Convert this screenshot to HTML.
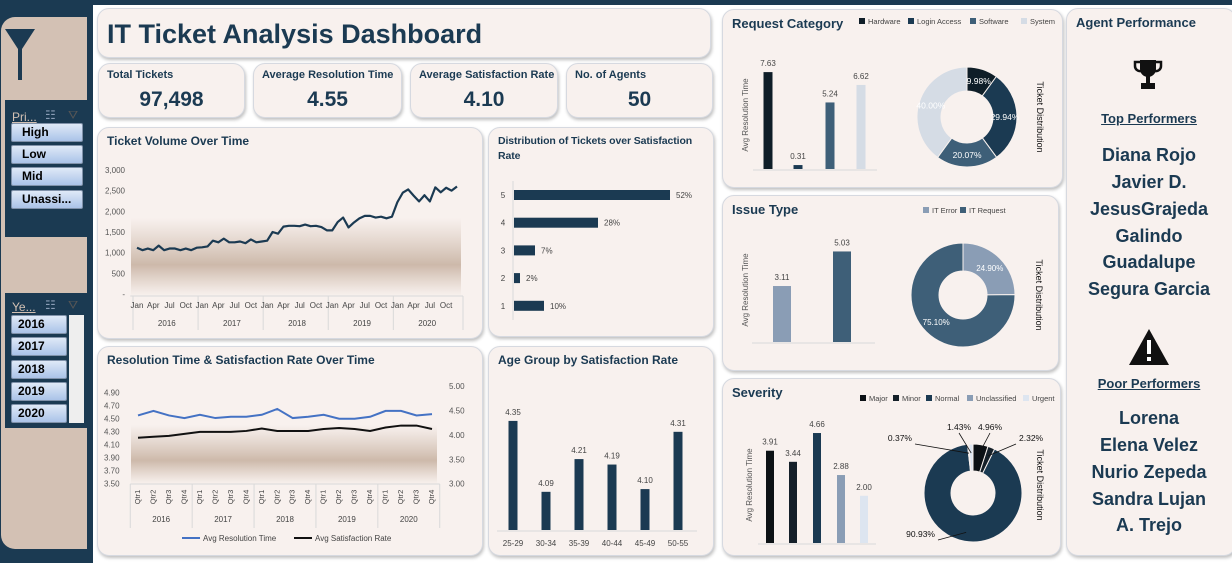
<!DOCTYPE html>
<html><head><meta charset="utf-8">
<style>
*{margin:0;padding:0;box-sizing:border-box}
body{width:1232px;height:563px;overflow:hidden;background:#fff;font-family:"Liberation Sans",Arial,sans-serif;position:relative;color:#1b3a52}
.abs{position:absolute}
.card{position:absolute;background:#f8f1ee;border:1px solid #d6d9e0;border-radius:12px;box-shadow:1px 2px 3px rgba(0,0,0,.25)}
.ct{position:absolute;left:9px;top:6px;font-size:12px;font-weight:bold;color:#1b3a52}
.kl{position:absolute;left:8px;top:5px;font-size:11px;font-weight:bold;color:#1b3a52}
.kv{position:absolute;left:0;right:0;top:24px;text-align:center;font-size:21px;font-weight:bold;color:#1b3a52}
.btn{position:absolute;height:19px;border:1px solid #8092aa;border-radius:2px;background:linear-gradient(#dfe9f7,#aac3e8);font-size:12px;font-weight:bold;color:#000;padding-left:10px;line-height:17px}
.name{position:absolute;left:1066px;width:166px;text-align:center;font-size:18px;font-weight:bold;color:#1b3a52}
svg text{font-family:"Liberation Sans",Arial,sans-serif}
</style></head><body>
<div class="abs" style="left:0;top:0;width:1232px;height:5px;background:#1b3a52"></div>
<div class="abs" style="left:0;top:0;width:93px;height:563px;background:#1b3a52"></div>
<div class="abs" style="left:1px;top:17px;width:86px;height:532px;background:#d3c1b4;border-radius:14px 0 0 14px"></div>
<svg class="abs" style="left:5px;top:29px" width="31" height="52"><polygon points="0,0 30,0 17,20 13,20" fill="#1b3a52"/><rect x="13" y="18" width="4" height="33" fill="#1b3a52"/></svg>

<div class="abs" style="left:5px;top:100px;width:82px;height:137px;background:#1b3a52"></div>
<div class="abs" style="left:12px;top:110px;font-size:12px;color:#d3c1b4;text-decoration:underline">Pri...</div>
<div class="abs" style="left:45px;top:108px;font-size:12px;color:#8a9db5">☷</div>
<div class="abs" style="left:68px;top:108px;font-size:12px;color:#555">⛛</div>
<div class="btn" style="left:11px;top:123px;width:72px">High</div>
<div class="btn" style="left:11px;top:145px;width:72px">Low</div>
<div class="btn" style="left:11px;top:167px;width:72px">Mid</div>
<div class="btn" style="left:11px;top:190px;width:72px">Unassi...</div>

<div class="abs" style="left:5px;top:293px;width:82px;height:135px;background:#1b3a52"></div>
<div class="abs" style="left:12px;top:300px;font-size:12px;color:#d3c1b4;text-decoration:underline">Ye...</div>
<div class="abs" style="left:45px;top:298px;font-size:12px;color:#8a9db5">☷</div>
<div class="abs" style="left:68px;top:298px;font-size:12px;color:#555">⛛</div>
<div class="abs" style="left:69px;top:315px;width:15px;height:108px;background:#eeeeee"></div>
<div class="btn" style="left:11px;top:315px;width:56px;padding-left:6px">2016</div>
<div class="btn" style="left:11px;top:337px;width:56px;padding-left:6px">2017</div>
<div class="btn" style="left:11px;top:360px;width:56px;padding-left:6px">2018</div>
<div class="btn" style="left:11px;top:382px;width:56px;padding-left:6px">2019</div>
<div class="btn" style="left:11px;top:404px;width:56px;padding-left:6px">2020</div>

<div class="card" style="left:97px;top:8px;width:614px;height:50px"><div class="abs" style="left:9px;top:10px;font-size:27px;font-weight:bold;color:#1b3a52">IT Ticket Analysis Dashboard</div></div>

<div class="card" style="left:98px;top:63px;width:147px;height:55px"><div class="kl">Total Tickets</div><div class="kv">97,498</div></div>
<div class="card" style="left:253px;top:63px;width:149px;height:55px"><div class="kl">Average Resolution Time</div><div class="kv">4.55</div></div>
<div class="card" style="left:410px;top:63px;width:148px;height:55px"><div class="kl">Average Satisfaction Rate</div><div class="kv">4.10</div></div>
<div class="card" style="left:566px;top:63px;width:147px;height:55px"><div class="kl">No. of Agents</div><div class="kv">50</div></div>

<div class="card" style="left:97px;top:127px;width:386px;height:212px"><div class="ct">Ticket Volume Over Time</div></div>
<div class="card" style="left:488px;top:127px;width:226px;height:210px"><div class="ct" style="line-height:15px;font-size:10.5px;letter-spacing:-0.1px;white-space:nowrap">Distribution of Tickets over Satisfaction<br>Rate</div></div>
<div class="card" style="left:97px;top:346px;width:386px;height:210px"><div class="ct">Resolution Time &amp; Satisfaction Rate Over Time</div></div>
<div class="card" style="left:488px;top:346px;width:226px;height:210px"><div class="ct">Age Group by Satisfaction Rate</div></div>
<div class="card" style="left:722px;top:9px;width:341px;height:179px"><div class="ct" style="font-size:13px">Request Category</div></div>
<div class="card" style="left:722px;top:195px;width:337px;height:176px"><div class="ct" style="font-size:13px">Issue Type</div></div>
<div class="card" style="left:722px;top:378px;width:339px;height:178px"><div class="ct" style="font-size:13px">Severity</div></div>
<div class="card" style="left:1066px;top:8px;width:170px;height:548px"><div class="ct" style="font-size:13px">Agent Performance</div></div>

<svg class="abs" style="left:1133px;top:59px" width="30" height="32"><path d="M7,1 H23 V10 A8,8 0 0 1 7,10 Z" fill="#111"/><path d="M7,3 H2 V7 A5,5 0 0 0 8,12" fill="none" stroke="#111" stroke-width="2.5"/><path d="M23,3 H28 V7 A5,5 0 0 1 22,12" fill="none" stroke="#111" stroke-width="2.5"/><rect x="13" y="17" width="4" height="8" fill="#111"/><rect x="8" y="24" width="14" height="6" fill="#111"/></svg>
<div class="abs" style="left:1066px;width:166px;top:111px;text-align:center;font-size:13px;font-weight:bold;text-decoration:underline">Top Performers</div>
<div class="name" style="top:145px">Diana Rojo</div>
<div class="name" style="top:172px">Javier D.</div>
<div class="name" style="top:199px">JesusGrajeda</div>
<div class="name" style="top:226px">Galindo</div>
<div class="name" style="top:252px">Guadalupe</div>
<div class="name" style="top:279px">Segura Garcia</div>
<svg class="abs" style="left:1128px;top:328px" width="42" height="38"><polygon points="21,1 41,37 1,37" fill="#111"/><rect x="19" y="12" width="4" height="14" fill="#fff"/><rect x="19" y="29" width="4" height="4" fill="#fff"/></svg>
<div class="abs" style="left:1066px;width:166px;top:376px;text-align:center;font-size:13px;font-weight:bold;text-decoration:underline">Poor Performers</div>
<div class="name" style="top:408px">Lorena</div>
<div class="name" style="top:435px">Elena Velez</div>
<div class="name" style="top:462px">Nurio Zepeda</div>
<div class="name" style="top:489px">Sandra Lujan</div>
<div class="name" style="top:515px">A. Trejo</div>

<svg id="charts" class="abs" style="left:0;top:0" width="1232" height="563">
<defs>
<linearGradient id="band" x1="0" y1="0" x2="0" y2="1"><stop offset="0" stop-color="#d3c1b4" stop-opacity="0"/><stop offset="0.6" stop-color="#cdb9aa" stop-opacity="1"/><stop offset="1" stop-color="#d3c1b4" stop-opacity="0"/></linearGradient>
</defs>
</svg>

<script>
// ---- data ----
const volYears = ["2016","2017","2018","2019","2020"];
const volMonthLabels = ["Jan","Apr","Jul","Oct"];
const volTicks = [0,500,1000,1500,2000,2500,3000];
const volValues = [1120,1060,1100,1060,1170,1060,1100,1100,1060,1100,1060,1120,
1130,1150,1290,1250,1340,1250,1250,1270,1230,1320,1250,1270,
1290,1500,1460,1630,1650,1650,1640,1680,1640,1650,1620,1540,
1540,1740,1850,1610,1730,1830,1890,1890,1850,1870,1830,1870,
2220,2450,2530,2380,2240,2390,2240,2580,2460,2570,2500,2600];
const qtrLabels = ["Qtr1","Qtr2","Qtr3","Qtr4"];
const resLeftTicks = [3.5,3.7,3.9,4.1,4.3,4.5,4.7,4.9];
const resRightTicks = [3.0,3.5,4.0,4.5,5.0];
const resTime = [4.55,4.62,4.55,4.51,4.56,4.51,4.53,4.53,4.56,4.65,4.51,4.53,4.56,4.50,4.50,4.53,4.62,4.62,4.55,4.57];
const satRate = [3.94,3.96,3.98,4.02,4.06,4.06,4.06,4.08,4.13,4.08,4.08,4.08,4.12,4.14,4.12,4.08,4.15,4.19,4.19,4.12];
const distCats = ["5","4","3","2","1"];
const distValues = [52,28,7,2,10];
const ageCats = ["25-29","30-34","35-39","40-44","45-49","50-55"];
const ageValues = [4.35,4.09,4.21,4.19,4.10,4.31];
const reqCats = ["Hardware","Login Access","Software","System"];
const reqTime = [7.63,0.31,5.24,6.62];
const reqShare = [9.98,29.94,20.07,40.00];
const issueCats = ["IT Error","IT Request"];
const issueTime = [3.11,5.03];
const issueShare = [24.90,75.10];
const sevCats = ["Major","Minor","Normal","Unclassified","Urgent"];
const sevTime = [3.91,3.44,4.66,2.88,2.00];
const sevShare = [4.96,2.32,90.93,0.37,1.43];

const svg = document.getElementById('charts');
const NS = 'http://www.w3.org/2000/svg';
function mk(tag, a){const e=document.createElementNS(NS,tag);for(const k in a)e.setAttribute(k,a[k]);svg.appendChild(e);return e;}
function txt(x,y,s,size,fill,anchor,extra){const e=mk('text',Object.assign({x:x,y:y,'font-size':size,fill:fill,'text-anchor':anchor||'start'},extra||{}));e.textContent=s;return e;}
function lin(d0,d1,r0,r1){return v=>r0+(v-d0)/(d1-d0)*(r1-r0);}
let el;

// ---- Ticket volume ----
{
 const x0=137,x1=457,y=lin(0,3000,294,170);
 const x=i=>x0+i*(x1-x0)/(volValues.length-1);
 el=mk('rect',{x:131,y:218,width:330,height:78,fill:'url(#band)'});
 
 
 volTicks.forEach(t=>{el=txt(125,y(t)+3,t===0?'-':t.toLocaleString('en-US'),8,'#555','end');
 
 });
 const pts=volValues.map((v,i)=>x(i)+','+y(v)).join(' ');
 el=mk('polyline',{points:pts,fill:'none',stroke:'#1b3a52','stroke-width':2.2,'stroke-linejoin':'round'});
 
 
 const step=(x1-x0)/(volValues.length-1);
 mk('line',{x1:x0-step/2-4,x2:x1+6,y1:296,y2:296,stroke:'#d9d9d9'});
 volYears.forEach((yr,k)=>{
  const left=x0+k*12*step-4;
  el=mk('line',{x1:left,x2:left,y1:296,y2:330,stroke:'#d9d9d9'});
  
  
  volMonthLabels.forEach((m,j)=>{el=txt(x(k*12+j*3),308,m,8,'#444','middle');
  
  });
  el=txt(x(k*12+5.5),326,yr,8,'#444','middle');
  
  
 });
 mk('line',{x1:x1+6,x2:x1+6,y1:296,y2:330,stroke:'#d9d9d9'});
}

// ---- Resolution & satisfaction ----
{
 const x0=138,x1=432,yl=lin(3.5,4.9,483.7,392.7),yr=lin(3.0,5.0,483.7,386);
 const step=(x1-x0)/(resTime.length-1), x=i=>x0+i*step;
 el=mk('rect',{x:131,y:425,width:306,height:59,fill:'url(#band)'});
 
 
 resLeftTicks.forEach(t=>{el=txt(104,yl(t)+3,t.toFixed(2),8,'#555','start');
 
 });
 resRightTicks.forEach(t=>{el=txt(449,yr(t)+3,t.toFixed(2),8,'#555','start');
 
 });
 el=mk('polyline',{points:resTime.map((v,i)=>x(i)+','+yl(v)).join(' '),fill:'none',stroke:'#4472c4','stroke-width':2});
 
 
 el=mk('polyline',{points:satRate.map((v,i)=>x(i)+','+yr(v)).join(' '),fill:'none',stroke:'#111','stroke-width':2});
 
 
 mk('line',{x1:x0-step/2,x2:x1+step/2,y1:484,y2:484,stroke:'#d9d9d9'});
 volYears.forEach((yrs,k)=>{
  const left=x0+(k*4-0.5)*step;
  mk('line',{x1:left,x2:left,y1:484,y2:528,stroke:'#d9d9d9'});
  qtrLabels.forEach((q,j)=>{const cx=x(k*4+j);el=txt(cx+3,502,q,7.5,'#444','middle',{transform:'rotate(-90 '+cx+' 500)'});
  
  });
  el=txt(x(k*4+1.5),522,yrs,8,'#444','middle');
  
  
 });
 mk('line',{x1:x1+step/2,x2:x1+step/2,y1:484,y2:528,stroke:'#d9d9d9'});
 el=mk('line',{x1:182,x2:200,y1:538,y2:538,stroke:'#4472c4','stroke-width':2});
 
 
 el=txt(203,541,'Avg Resolution Time',8,'#444');
 
 
 el=mk('line',{x1:294,x2:312,y1:538,y2:538,stroke:'#111','stroke-width':2});
 
 
 el=txt(315,541,'Avg Satisfaction Rate',8,'#444');
 
 
}

// ---- Distribution over satisfaction ----
{
 const x=lin(0,100,514,814), y0=195, dy=27.7;
 mk('line',{x1:513,x2:513,y1:181,y2:320,stroke:'#d9d9d9'});
 distCats.forEach((c,i)=>{
  const cy=y0+i*dy;
  el=txt(503,cy+3,c,8,'#444','middle');
  
  
  el=mk('rect',{x:514,y:cy-5,width:x(distValues[i])-514,height:10,fill:'#1b3a52'});
  
  
  el=txt(x(distValues[i])+6,cy+3,distValues[i]+'%',8,'#444');
  
  
 });
}

// ---- Age group ----
{
 const y=lin(3.95,4.5,530,380), x0=513, step=33;
 mk('line',{x1:497,x2:697,y1:531,y2:531,stroke:'#d9d9d9'});
 ageCats.forEach((c,i)=>{
  const cx=x0+i*step, v=ageValues[i];
  el=mk('rect',{x:cx-4.5,y:y(v),width:9,height:530-y(v),fill:'#1b3a52'});
  
  
  el=txt(cx,y(v)-6,v.toFixed(2),8,'#444','middle');
  
  
  el=txt(cx,546,c,8,'#444','middle');
  
  
 });
}

// ---- donut helper ----
function donut(cx,cy,R,r,shares,colors,prefix){
 let a=-Math.PI/2;const tot=shares.reduce((s,v)=>s+v,0);const mids=[];
 shares.forEach((v,i)=>{
  const b=a+v/tot*2*Math.PI, large=(b-a)>Math.PI?1:0;
  const p=(ang,rad)=>(cx+rad*Math.cos(ang))+','+(cy+rad*Math.sin(ang));
  const d='M'+p(a,R)+' A'+R+','+R+' 0 '+large+' 1 '+p(b,R)+' L'+p(b,r)+' A'+r+','+r+' 0 '+large+' 0 '+p(a,r)+' Z';
  el=mk('path',{d:d,fill:colors[i],stroke:'#f8f1ee','stroke-width':1});
  
  
  mids.push((a+b)/2);a=b;
 });
 return mids;
}
function legend(x,y,cats,colors,gap,prefix){
 let cx=x;
 cats.forEach((c,i)=>{
  el=mk('rect',{x:cx,y:y-6,width:6,height:6,fill:colors[i]});
  
  
  el=txt(cx+9,y,c,7.5,'#444');
  
  
  cx+=gap[i];
 });
}
function ytitle(x,y,s,prefix){el=txt(x,y,s,8,'#555','middle',{transform:'rotate(-90 '+x+' '+y+')'});
 
 }
function dtitle(x,y,prefix){el=txt(x,y,'Ticket Distribution',9,'#111','middle',{transform:'rotate(90 '+x+' '+y+')'});
 
 }
function bars(xs,base,scale,vals,colors,w,prefix){
 vals.forEach((v,i)=>{const h=v*scale;
  el=mk('rect',{x:xs[i]-w/2,y:base-h,width:w,height:h,fill:colors[i]});
  
  
  el=txt(xs[i],base-h-6,v.toFixed(2),8,'#444','middle');
  
  
 });
}

// ---- Request category ----
{
 const colors=['#0f1e28','#1b3a52','#3e5f78','#d5dce5'];
 legend(859,24,reqCats,colors,[49,62,51,50],'request');
 ytitle(748,115,'Avg Resolution Time','request');
 mk('line',{x1:753,x2:877,y1:170,y2:170,stroke:'#d9d9d9'});
 bars([768,798,830,861],169,12.7,reqTime,colors,9,'request');
 const mids=donut(967,117,50,26,reqShare,colors,'request');
 mids.forEach((m,i)=>{const rr=38;el=txt(967+rr*Math.cos(m),117+rr*Math.sin(m)+3,reqShare[i].toFixed(2)+'%',8.5,'#fff','middle');
 
 });
 dtitle(1037,117,'request');
}

// ---- Issue type ----
{
 const colors=['#8a9db5','#3e5f78'];
 legend(923,213,issueCats,colors,[37,60],'issue');
 ytitle(748,290,'Avg Resolution Time','issue');
 mk('line',{x1:752,x2:875,y1:343,y2:343,stroke:'#d9d9d9'});
 bars([782,842],342,18,issueTime,colors,18,'issue');
 const mids=donut(963,295,52,24,issueShare,colors,'issue');
 mids.forEach((m,i)=>{const rr=38;el=txt(963+rr*Math.cos(m),295+rr*Math.sin(m)+3,issueShare[i].toFixed(2)+'%',8,'#fff','middle');
 
 });
 dtitle(1036,295,'issue');
}

// ---- Severity ----
{
 const colors=['#0c1115','#152029','#1b3a52','#8a9db5','#dde5f0'];
 legend(860,401,sevCats,colors,[33,33,41,56,40],'severity');
 ytitle(752,485,'Avg Resolution Time','severity');
 mk('line',{x1:758,x2:876,y1:544,y2:544,stroke:'#d9d9d9'});
 bars([770,793,817,841,864],543,23.6,sevTime,colors,8,'severity');
 const cx=973,cy=493;
 const mids=donut(cx,cy,49,22,sevShare,colors,'severity');
 // label positions per slice index: Major, Minor, Normal, Unclassified, Urgent
 const pos=[[990,430,'middle'],[1019,441,'start'],[935,537,'end'],[912,441,'end'],[959,430,'middle']];
 sevShare.forEach((v,i)=>{
  const m=mids[i], px=cx+40*Math.cos(m), py=cy+40*Math.sin(m);
  const p=pos[i];
  el=mk('line',{x1:px,y1:py,x2:p[0]+(p[2]==='end'?3:p[2]==='start'?-3:0),y2:p[1]+3,stroke:'#111','stroke-width':0.8});
  
  
  el=txt(p[0],p[1],v.toFixed(2)+'%',8.5,'#111',p[2]);
  
  
 });
 dtitle(1037,485,'severity');
}
</script>
</body></html>
